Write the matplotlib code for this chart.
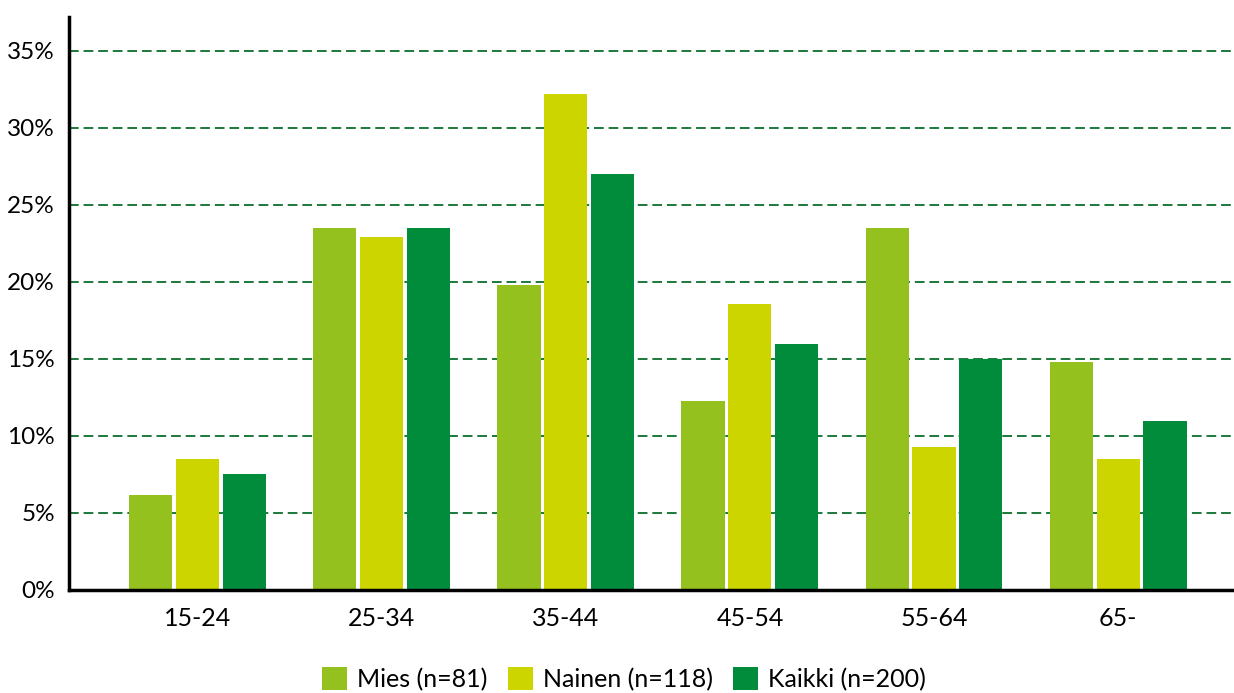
import matplotlib.pyplot as plt
import numpy as np

categories = ['15-24', '25-34', '35-44', '45-54', '55-64', '65-']
series_names = ['Mies (n=81)', 'Nainen (n=118)', 'Kaikki (n=200)']
mies = [6.2, 23.5, 19.8, 12.3, 23.5, 14.8]
nainen = [8.5, 22.9, 32.2, 18.6, 9.3, 8.5]
kaikki = [7.5, 23.5, 27.0, 16.0, 15.0, 11.0]
yticks = [0, 5, 10, 15, 20, 25, 30, 35]

colors = ['#95c11f', '#cdd500', '#008c3a']

plt.rcParams['font.family'] = ['Lato', 'DejaVu Sans']

fig = plt.figure(figsize=(12.34, 6.93), dpi=100)
ax = fig.add_axes([69 / 1234, 103 / 693, 1 - 69 / 1234, (590 - 17) / 693])

x = np.arange(len(categories))
width = 0.234
step = 0.255
for i, (vals, name, col) in enumerate(zip([mies, nainen, kaikki], series_names, colors)):
    ax.bar(x + (i - 1) * step, vals, width, color=col, label=name, zorder=3)

# grid lines
for t in yticks[1:]:
    ax.axhline(t, color='#1a7a3a', lw=1.4, ls=(0, (5, 2.5)), zorder=1)
ax.axhline(0, color='#8a9a90', lw=1.4, ls=(0, (5, 2.5)), zorder=2)

ax.set_ylim(0, 37.2)
ax.set_xlim(-0.70, 5.63)
ax.set_yticks(yticks)
ax.set_yticklabels([f'{t}%' for t in yticks], fontsize=17.5)
ax.set_xticks(x)
ax.set_xticklabels(categories, fontsize=18)
ax.tick_params(length=0, pad=10)
ax.tick_params(axis='x', pad=12)

for s in ['top', 'right']:
    ax.spines[s].set_visible(False)
ax.spines['left'].set_linewidth(2.5)
ax.spines['bottom'].set_linewidth(2.5)
ax.spines['left'].set_zorder(5)
ax.spines['bottom'].set_zorder(5)

fig.legend(loc='center', bbox_to_anchor=(624 / 1234, 1 - 679 / 693), ncol=3,
           frameon=False, fontsize=18, handlelength=1.0, handleheight=1.0,
           handletextpad=0.4, columnspacing=0.8)

fig.savefig('out.png', dpi=100)
